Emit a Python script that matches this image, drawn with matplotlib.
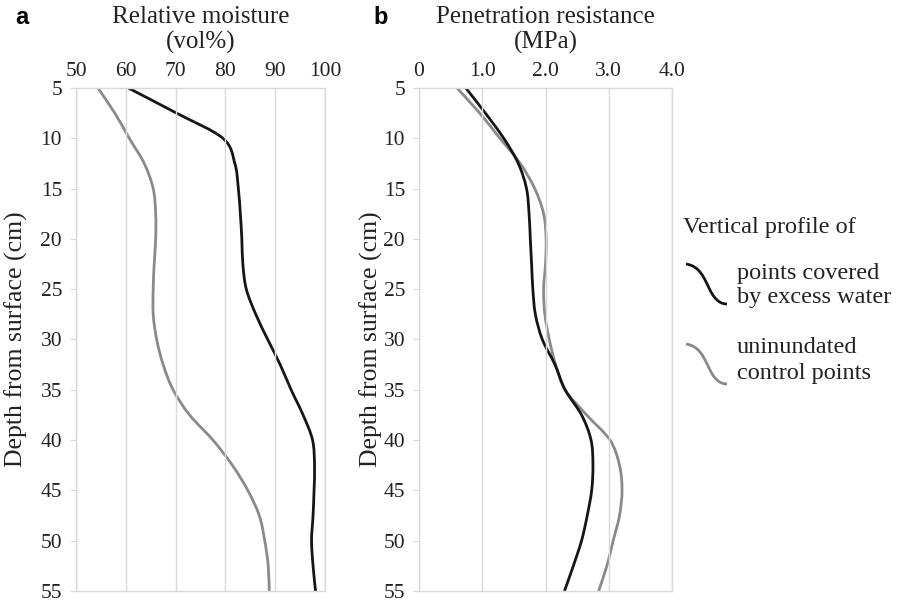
"""Soil moisture and penetration resistance depth profiles (panels a and b)."""

import matplotlib

matplotlib.use("Agg")
import matplotlib.pyplot as plt
import numpy as np
from matplotlib.patches import PathPatch
from matplotlib.path import Path

DEPTH = [5, 7.5, 10, 12.5, 15, 17.5, 20, 22.5, 25, 27.5, 30,
         32.5, 35, 37.5, 40, 42.5, 45, 47.5, 50, 52.5, 55]

MOIST_WATER = [60.5, 70.2, 79.5, 81.9, 82.6, 83.0, 83.3, 83.5, 84.2, 86.1, 88.5,
               91.0, 93.2, 95.6, 97.5, 97.9, 97.8, 97.6, 97.3, 97.6, 98.1]
MOIST_CONTROL = [54.4, 57.8, 60.7, 63.7, 65.5, 66.0, 66.0, 65.7, 65.5, 65.5, 66.2,
                 67.5, 69.5, 72.8, 77.5, 81.4, 84.5, 86.8, 87.9, 88.6, 88.8]

PEN_WATER = [0.74, 1.05, 1.34, 1.57, 1.70, 1.74, 1.76, 1.78, 1.80, 1.84, 1.95,
             2.15, 2.31, 2.57, 2.72, 2.75, 2.73, 2.66, 2.57, 2.44, 2.30]
PEN_CONTROL = [0.60, 0.96, 1.28, 1.60, 1.83, 1.97, 2.01, 2.00, 1.97, 1.99, 2.06,
               2.16, 2.31, 2.65, 3.02, 3.17, 3.21, 3.17, 3.07, 2.97, 2.84]

MOIST_TICKS = [50, 60, 70, 80, 90, 100]
PEN_TICKS = [0, 1, 2, 3, 4]
PEN_TICKLABELS = ["0", "1.0", "2.0", "3.0", "4.0"]
DEPTH_TICKS = [5, 10, 15, 20, 25, 30, 35, 40, 45, 50, 55]

BLACK = "#151515"
GRAY = "#8a8a8a"
GRID = "#d9d9d9"
TEXT = "#222222"
SERIF = "Liberation Serif"
W, H = 898, 603


def fx(px):
    return px / W


def fy(py):
    return 1 - py / H


def smooth_path(xs, ys):
    # Excel-style smoothed line: cubic Bezier through every point
    pts = np.column_stack([xs, ys]).astype(float)
    n = len(pts)
    verts = [pts[0]]
    codes = [Path.MOVETO]
    for i in range(n - 1):
        p0 = pts[i - 1] if i > 0 else pts[i]
        p1, p2 = pts[i], pts[i + 1]
        p3 = pts[i + 2] if i + 2 < n else pts[i + 1]
        c1 = p1 + (p2 - p0) / 6.0
        c2 = p2 - (p3 - p1) / 6.0
        verts += [c1, c2, p2]
        codes += [Path.CURVE4] * 3
    return Path(verts, codes)


def draw_line(ax, xs, ys, color):
    patch = PathPatch(smooth_path(xs, ys), fill=False, edgecolor=color,
                      linewidth=2.0, capstyle="butt", transform=ax.transData)
    ax.add_patch(patch)


def style_axis(ax, xlim, xticks, xticklabels):
    ax.set_xlim(*xlim)
    ax.set_ylim(55, 5)
    ax.xaxis.tick_top()
    ax.set_xticks(xticks)
    ax.set_xticklabels(xticklabels, fontfamily=SERIF, fontsize=15.5)
    ax.set_yticks(DEPTH_TICKS)
    ax.set_yticklabels([str(d) for d in DEPTH_TICKS], fontfamily=SERIF, fontsize=15.5)
    ax.tick_params(axis="x", length=0, pad=5, colors=TEXT)
    ax.tick_params(axis="y", length=4, width=0.8, color=GRID, pad=6, labelcolor=TEXT)
    ax.grid(axis="x", color=GRID, linewidth=1.0)
    for s in ax.spines.values():
        s.set_color(GRID)
        s.set_linewidth(1.0)
    ax.set_ylabel("Depth from surface (cm)", fontfamily=SERIF, fontsize=18.5, color=TEXT)


def title_lines(xc, line1, line2):
    fig.text(fx(xc), fy(23), line1, fontfamily=SERIF, fontsize=18, color=TEXT,
             ha="center", va="baseline")
    fig.text(fx(xc), fy(49), line2, fontfamily=SERIF, fontsize=18, color=TEXT,
             ha="center", va="baseline")


fig = plt.figure(figsize=(W / 100, H / 100), dpi=100)
ax_a = fig.add_axes([fx(76), fy(591), 249 / W, 503 / H])
ax_b = fig.add_axes([fx(419), fy(591), 253 / W, 503 / H])

style_axis(ax_a, (50, 100), MOIST_TICKS, [str(t) for t in MOIST_TICKS])
draw_line(ax_a, MOIST_CONTROL, DEPTH, GRAY)
draw_line(ax_a, MOIST_WATER, DEPTH, BLACK)
ax_a.yaxis.set_label_coords(-0.193, 0.5)
title_lines(200.5, "Relative moisture", "(vol%)")

style_axis(ax_b, (0, 4), PEN_TICKS, PEN_TICKLABELS)
draw_line(ax_b, PEN_CONTROL, DEPTH, GRAY)
draw_line(ax_b, PEN_WATER, DEPTH, BLACK)
ax_b.yaxis.set_label_coords(-0.142, 0.5)
title_lines(545.5, "Penetration resistance", "(MPa)")

fig.text(fx(15), fy(18), "a", fontfamily="Liberation Sans", fontweight="bold",
         fontsize=17, va="center", ha="left")
fig.text(fx(373), fy(18), "b", fontfamily="Liberation Sans", fontweight="bold",
         fontsize=17, va="center", ha="left")

# legend block to the right of panel b
LEGEND_LINES = [("Vertical profile of", 683, 233),
                ("points covered", 737, 279), ("by excess water", 737, 303),
                ("uninundated", 737, 353), ("control points", 737, 379)]
for txt, x, y in LEGEND_LINES:
    fig.text(fx(x), fy(y), txt, fontfamily=SERIF, fontsize=17.5, color=TEXT,
             ha="left", va="baseline")


def legend_squiggle(x0, y0, color):
    # small S-shaped sample line, figure pixels from the top-left
    pts = [(x0, y0), (x0 + 14, y0 + 2), (x0 + 18, y0 + 14), (x0 + 24, y0 + 26),
           (x0 + 30, y0 + 38), (x0 + 36, y0 + 40), (x0 + 41, y0 + 40)]
    verts = [(fx(x), fy(y)) for x, y in pts]
    codes = [Path.MOVETO] + [Path.CURVE4] * 6
    fig.add_artist(PathPatch(Path(verts, codes), fill=False, edgecolor=color,
                             linewidth=2.0, transform=fig.transFigure))


legend_squiggle(686, 264, BLACK)
legend_squiggle(686, 344, GRAY)

fig.savefig("out.png", dpi=100)
